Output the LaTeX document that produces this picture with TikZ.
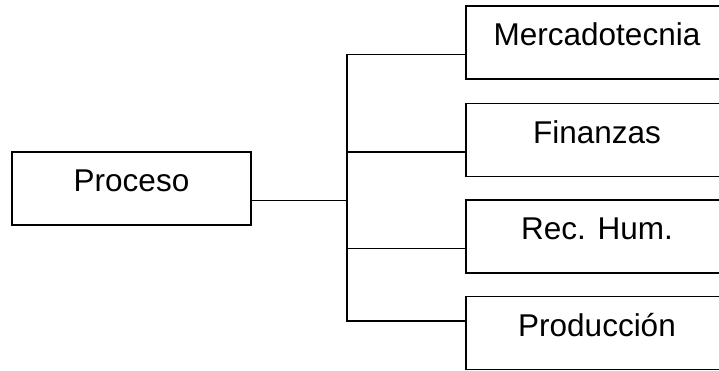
\documentclass[tikz,border=0pt]{standalone}
\usepackage{fontspec}
\setmainfont{Liberation Sans}
\begin{document}
\begin{tikzpicture}[x=1pt,y=-1pt,
  box/.style={draw=black, line width=1.5pt, rectangle, inner sep=0pt,
    minimum height=73pt, text height=20pt, text depth=14pt,
    font=\fontsize{31.5}{38}\selectfont},
  procbox/.style={box, minimum width=239pt},
  areabox/.style={box, minimum width=262pt},
  link/.style={draw=black, line width=1.5pt}]
  \useasboundingbox (0,0) rectangle (719,370);
  \clip (0,0) rectangle (719,370);

  % central process and the four areas
  \node[procbox] (proc) at (131.5,188.5) {Proceso};
  \node[areabox] (merc) at (597,42.5)  {Mercadotecnia};
  \node[areabox] (fin)  at (597,140)   {Finanzas};
  \node[areabox] (rec)  at (597,236.5) {Rec. Hum.};
  \node[areabox] (prod) at (597,333)   {Producción};

  % vertical trunk position and the junction points
  \coordinate (trunk) at (347,0);
  \path ([yshift=-12pt]proc.east) coordinate (pj)
        ([yshift=-12pt]merc.west) coordinate (mj)
        ([yshift=-12pt]fin.west)  coordinate (fj)
        ([yshift=-12pt]rec.west)  coordinate (rj)
        ([yshift=12pt]prod.west)  coordinate (dj);

  % connectors
  \draw[link] (mj) -- (mj -| trunk) -- (dj -| trunk) -- (dj);
  \draw[link] (fj) -- (fj -| trunk);
  \draw[link] (rj) -- (rj -| trunk);
  \draw[link] (pj) -- (pj -| trunk);
\end{tikzpicture}
\end{document}
